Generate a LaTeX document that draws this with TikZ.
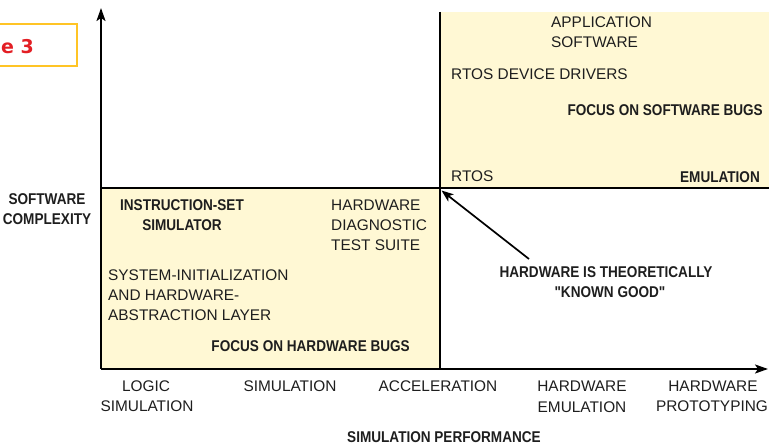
\documentclass[tikz,border=0pt]{standalone}
\usepackage{fontspec}
\setmainfont{Liberation Sans}
\newfontfamily\bldfam{Liberation Sans}[FakeStretch=0.87]
\newfontfamily\figfam{DejaVu Sans}
\usetikzlibrary{arrows.meta}
\definecolor{paleyellow}{HTML}{FFF8D4}
\definecolor{figorange}{HTML}{FFC425}
\definecolor{figred}{HTML}{E31E24}
\definecolor{ink}{HTML}{1E1E1E}
\newcommand\regfont{\fontsize{15.4}{20}\selectfont}
\newcommand\bldfont{\bldfam\bfseries\fontsize{15.6}{20}\selectfont}
\tikzset{
  reg/.style={font=\regfont, text=ink, inner sep=0pt},
  bld/.style={font=\bldfont, text=ink, inner sep=0pt},
  axisline/.style={line width=2pt, draw=black},
  axisarrow/.style={line width=2pt, draw=black, -{Stealth[length=13pt,width=9pt,inset=3pt]}},
  pointer/.style={line width=1.7pt, draw=black, -{Stealth[length=12pt,width=9pt,inset=3pt]}},
  quad/.style={fill=paleyellow, draw=none}
}
\begin{document}
\begin{tikzpicture}[x=1pt,y=-1pt]
\useasboundingbox (0,0) rectangle (769,446);
\fill[white] (0,0) rectangle (769,446);

% figure tag box
\draw[figorange, line width=2.5pt] (-6,24) rectangle (77,66);
\node[font=\figfam\bfseries\fontsize{19}{22}\selectfont, text=figred, inner sep=0pt, anchor=base east] (figtag) at (34,54) {e 3};

% shaded quadrants
\fill[quad] (440,12) rectangle (769,188.5);
\fill[quad] (101,188.5) rectangle (440,369);

% coordinates
\coordinate (O) at (101,369);
\coordinate (ytip) at (101,8);
\coordinate (xtip) at (768,369);
\coordinate (hl) at (101,188.5);
\coordinate (hr) at (769,188.5);
\coordinate (vt) at (440,12);
\coordinate (vb) at (440,369);
\coordinate (corner) at (441.5,190.5);
\coordinate (arrstart) at (529,259);

% divider lines
\draw[axisline] (hl) -- (hr);
\draw[axisline] (vt) -- (vb);

% axes
\draw[axisarrow] (O) -- (ytip);
\draw[axisarrow] (O) -- (xtip);

% pointer arrow
\draw[pointer] (arrstart) -- (corner);

% top-right quadrant texts
\node[reg, anchor=base west] (app1) at (551,28) {APPLICATION};
\node[reg, anchor=base west] (app2) at (551,48) {SOFTWARE};
\node[reg, anchor=base west] (rdd) at (451,80) {RTOS DEVICE DRIVERS};
\node[bld, anchor=base east] (fsw) at (763,115.5) {FOCUS ON SOFTWARE BUGS};
\node[reg, anchor=base west] (rtos) at (451,182) {RTOS};
\node[bld, anchor=base east] (emu) at (760,182.5) {EMULATION};

% y axis label
\node[bld, anchor=base] (swc1) at (47,204.5) {SOFTWARE};
\node[bld, anchor=base] (swc2) at (47,224.5) {COMPLEXITY};

% lower-left quadrant texts
\node[bld, anchor=base] (iss1) at (182,210.5) {INSTRUCTION-SET};
\node[bld, anchor=base] (iss2) at (182,230.5) {SIMULATOR};
\node[reg, anchor=base west] (hdt1) at (331,210.5) {HARDWARE};
\node[reg, anchor=base west] (hdt2) at (331,230.5) {DIAGNOSTIC};
\node[reg, anchor=base west] (hdt3) at (331,250.5) {TEST SUITE};
\node[reg, anchor=base west] (sys1) at (108,280.5) {SYSTEM-INITIALIZATION};
\node[reg, anchor=base west] (sys2) at (108,300.5) {AND HARDWARE-};
\node[reg, anchor=base west] (sys3) at (108,320.5) {ABSTRACTION LAYER};
\node[bld, anchor=base east] (fhw) at (410,351.5) {FOCUS ON HARDWARE BUGS};

% known good note
\node[bld, anchor=base] (kg1) at (606,277.5) {HARDWARE IS THEORETICALLY};
\node[bld, anchor=base] (kg2) at (610,297.5) {"KNOWN GOOD"};

% x axis labels
\node[reg, anchor=base] (ls1) at (146,391.5) {LOGIC};
\node[reg, anchor=base] (ls2) at (147,412) {SIMULATION};
\node[reg, anchor=base] (sim) at (290,391.5) {SIMULATION};
\node[reg, anchor=base] (acc) at (438,391.5) {ACCELERATION};
\node[reg, anchor=base] (he1) at (582,391.5) {HARDWARE};
\node[reg, anchor=base] (he2) at (582,412.5) {EMULATION};
\node[reg, anchor=base] (hp1) at (713,391.5) {HARDWARE};
\node[reg, anchor=base] (hp2) at (712,412) {PROTOTYPING};
\node[bld, anchor=base] (simperf) at (444,442.5) {SIMULATION PERFORMANCE};
\end{tikzpicture}
\end{document}
